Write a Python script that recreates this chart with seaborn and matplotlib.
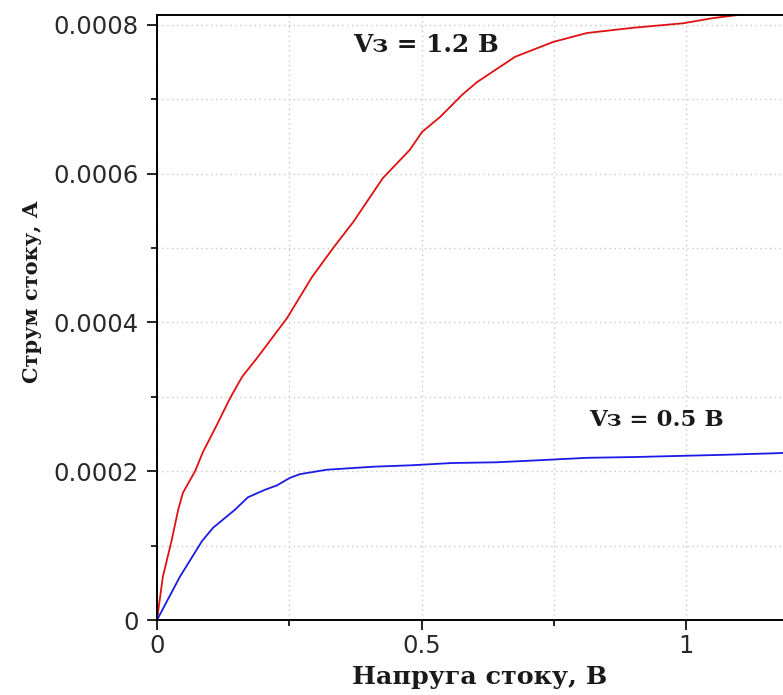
import numpy as np
import pandas as pd
import matplotlib
matplotlib.use("Agg")
import matplotlib.pyplot as plt
from matplotlib.ticker import MultipleLocator, FuncFormatter
import seaborn as sns

# Data
vd_red = [0, 0.011, 0.028, 0.040, 0.049, 0.072, 0.087, 0.113, 0.138, 0.161, 0.189,
          0.246, 0.293, 0.333, 0.371, 0.427, 0.478, 0.501, 0.535, 0.577, 0.605,
          0.677, 0.749, 0.813, 0.900, 0.994, 1.051, 1.096, 1.20]
id_red = [0, 0.0000578, 0.000108, 0.000148, 0.000171, 0.000200, 0.000226, 0.000262,
          0.000298, 0.000327, 0.000352, 0.000406, 0.000461, 0.000500, 0.000535,
          0.000594, 0.000632, 0.000656, 0.000676, 0.000706, 0.000723, 0.000757,
          0.000777, 0.000789, 0.000796, 0.000802, 0.000809, 0.000813, 0.000818]

vd_blue = [0, 0.043, 0.085, 0.106, 0.147, 0.172, 0.204, 0.227, 0.251, 0.270, 0.321,
           0.365, 0.408, 0.482, 0.558, 0.643, 0.730, 0.813, 0.900, 1.070, 1.163, 1.20]
id_blue = [0, 0.0000578, 0.000106, 0.000124, 0.000148, 0.000165, 0.000175, 0.000181,
           0.000191, 0.000196, 0.000202, 0.000204, 0.000206, 0.000208, 0.000211,
           0.000212, 0.000215, 0.000218, 0.000219, 0.000222, 0.000224, 0.000225]

labels = ["Vз = 1.2 В", "Vз = 0.5 В"]
x_label = "Напруга стоку, В"
y_label = "Струм стоку, А"

df = pd.concat([
    pd.DataFrame({"vd": vd_red, "id": id_red, "s": labels[0]}),
    pd.DataFrame({"vd": vd_blue, "id": id_blue, "s": labels[1]}),
], ignore_index=True)

sns.set_theme(style="white")
plt.rcParams['font.family'] = ['DejaVu Sans']

fig = plt.figure(figsize=(7.83, 6.95), dpi=100)
ax = fig.add_axes([157/783, 75/695, 1 - 157/783, (620-15)/695])

sns.lineplot(data=df, x="vd", y="id", hue="s", palette={labels[0]: "#e01010", labels[1]: "#1a1ae6"},
             estimator=None, sort=False, linewidth=1.3, legend=False, ax=ax)

ax.set_xlim(0, (783-157)/529)
ax.set_ylim(0, (620-15)/744000)

ax.xaxis.set_major_locator(MultipleLocator(0.5))
ax.xaxis.set_minor_locator(MultipleLocator(0.25))
ax.yaxis.set_major_locator(MultipleLocator(0.0002))
ax.yaxis.set_minor_locator(MultipleLocator(0.0001))

def fmt(v, pos):
    if abs(v) < 1e-12:
        return "0"
    s = ("%.4f" % v).rstrip("0").rstrip(".")
    return s
ax.xaxis.set_major_formatter(FuncFormatter(fmt))
ax.yaxis.set_major_formatter(FuncFormatter(fmt))

ax.grid(True, which="both", linestyle=(0, (1, 2.5)), color="#c8c8c8", linewidth=1.0)
ax.set_axisbelow(True)

for side in ["left", "bottom", "top"]:
    ax.spines[side].set_color("black")
    ax.spines[side].set_linewidth(1.4)
ax.spines["right"].set_visible(False)

ax.tick_params(which="major", direction="out", length=7, width=1.2, color="black",
               labelsize=17.5, labelcolor="#2a2a2a", left=True, bottom=True)
ax.tick_params(which="minor", direction="out", length=4.5, width=1.2, color="black",
               left=True, bottom=True)
ax.tick_params(axis="y", which="major", pad=6)
ax.tick_params(axis="x", which="major", pad=3)

serif = ['DejaVu Serif']
ax.set_xlabel(x_label, fontsize=18.3, fontweight="bold", family=serif, color="#1a1a1a")
ax.set_ylabel(y_label, fontsize=15, fontweight="bold", family=serif, color="#1a1a1a")
ax.xaxis.set_label_coords(0.516, -0.075)
ax.yaxis.set_label_coords(-0.184, 0.542)

ax.text(0.509, 0.000773, labels[0], fontsize=17.8, fontweight="bold", family=serif,
        color="#1a1a1a", ha="center", va="center")
ax.text(0.945, 0.000269, labels[1], fontsize=16.5, fontweight="bold", family=serif,
        color="#1a1a1a", ha="center", va="center")

fig.savefig("out.png", dpi=100)
